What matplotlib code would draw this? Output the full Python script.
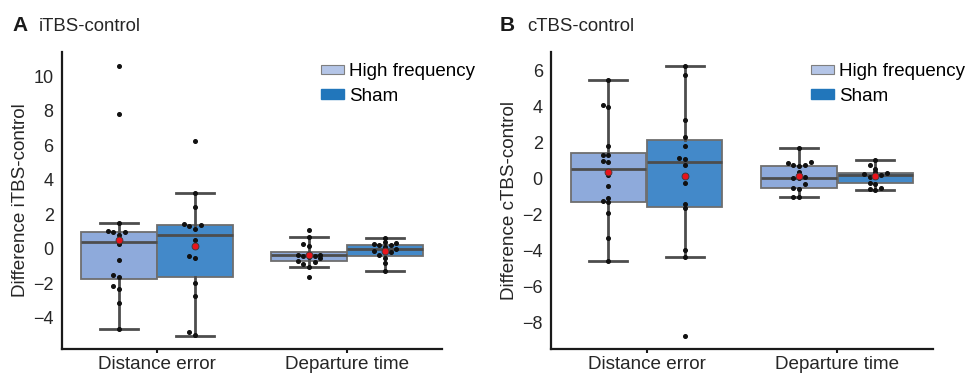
import matplotlib
matplotlib.use("Agg")
import matplotlib.pyplot as plt
from matplotlib.patches import Patch
import numpy as np

plt.rcParams['font.family'] = ['Liberation Sans', 'DejaVu Sans']

categories = ['Distance error', 'Departure time']
groups = ['High frequency', 'Sham']

# individual participant differences, panel A (iTBS - control)
a_hf_dist = [10.6, 7.8, 1.5, 1.05, 1.0, 0.95, 0.8, 0.55, 0.3, -0.65, -1.5, -1.6, -2.15, -2.35, -3.15, -4.65]
a_sham_dist = [6.25, 3.25, 2.4, 1.42, 1.38, 1.35, 1.15, 0.5, -0.4, -0.5, -1.95, -2.75, -4.8, -5.0]
a_hf_dep = [1.12, 0.7, 0.3, 0.15, -0.3, -0.35, -0.38, -0.4, -0.42, -0.45, -0.5, -0.7, -0.78, -0.85, -1.05, -1.62]
a_sham_dep = [0.64, 0.42, 0.35, 0.3, 0.25, 0.2, 0.1, 0.0, -0.1, -0.2, -0.35, -0.5, -0.8, -1.27]

# panel B (cTBS - control)
b_hf_dist = [5.48, 4.12, 3.97, 1.82, 1.34, 1.32, 0.96, 0.92, 0.2, -0.41, -1.06, -1.27, -1.3, -1.93, -3.31, -4.61]
b_sham_dist = [6.28, 5.76, 3.27, 2.3, 1.82, 1.12, 1.1, 0.76, -0.24, -1.42, -1.65, -4.0, -4.35, -8.75]
b_hf_dep = [1.73, 0.9, 0.88, 0.75, 0.74, 0.72, 0.37, 0.1, 0.05, 0.02, -0.32, -0.5, -0.56, -1.0, -1.03]
b_sham_dep = [1.04, 0.74, 0.56, 0.35, 0.32, 0.25, 0.2, 0.1, 0.08, -0.25, -0.3, -0.55, -0.6, -0.65]

# box stats: (whislo, q1, median, q3, whishi, mean)
a_hf_stats = [(-4.63, -1.72, 0.41, 0.98, 1.5, 0.5), (-1.04, -0.73, -0.38, -0.17, 0.7, -0.33)]
a_sham_stats = [(-5.04, -1.6, 0.81, 1.41, 3.24, 0.16), (-1.27, -0.4, -0.02, 0.25, 0.64, -0.12)]
b_hf_stats = [(-4.61, -1.28, 0.52, 1.43, 5.48, 0.39), (-1.02, -0.52, 0.04, 0.7, 1.73, 0.17)]
b_sham_stats = [(-4.37, -1.6, 0.93, 2.17, 6.28, 0.15), (-0.65, -0.22, 0.22, 0.33, 1.04, 0.17)]

box_colors = ['#8eaadb', '#4389c9']
legend_colors = ['#b4c5e7', '#2176bb']
line_color = '#4d4d4d'
text_color = '#262626'


def spread(values, tol):
    """small sideways offsets so near-equal points do not sit on top of each other"""
    vals = np.asarray(values, dtype=float)
    order = np.argsort(vals)
    offs = np.zeros(len(vals))
    steps = [0.0, -0.03, 0.03, -0.06, 0.06]
    k = 0
    prev = None
    for idx in order:
        if prev is not None and abs(vals[idx] - prev) < tol:
            k += 1
        else:
            k = 0
        offs[idx] = steps[k % len(steps)]
        prev = vals[idx]
    return offs


def draw_panel(ax, points, stats, ylabel, ylim, yticks):
    offset = 0.2
    width = 0.395
    tol = (ylim[1] - ylim[0]) * 0.012
    for g in range(2):
        for c in range(2):
            wl, q1, med, q3, wh, mean = stats[g][c]
            pos = c + (-offset if g == 0 else offset)
            ax.bxp([dict(whislo=wl, q1=q1, med=med, q3=q3, whishi=wh, fliers=[])],
                   positions=[pos], widths=width, capwidths=[0.2],
                   showfliers=False, patch_artist=True,
                   boxprops=dict(facecolor=box_colors[g], edgecolor='#6e6e6e', linewidth=1.3),
                   medianprops=dict(color=line_color, linewidth=2),
                   whiskerprops=dict(color=line_color, linewidth=2),
                   capprops=dict(color=line_color, linewidth=2),
                   manage_ticks=False, zorder=2)
            vals = points[g][c]
            xs = pos + spread(vals, tol)
            ax.plot(xs, vals, 'o', color='#111111', markersize=2.6, zorder=3)
            ax.plot([pos], [mean], 'o', color='#e8141b', markeredgecolor='#3a3a3a',
                    markeredgewidth=0.6, markersize=5, zorder=4)

    ax.set_xlim(-0.5, 1.5)
    ax.set_ylim(*ylim)
    ax.set_xticks([0, 1])
    ax.set_xticklabels(categories, fontsize=13.6, color=text_color)
    ax.set_yticks(yticks)
    ax.set_yticklabels([f'{t:d}'.replace('-', '\u2212') for t in yticks], fontsize=13, color=text_color)
    ax.tick_params(axis='y', length=0, pad=6)
    ax.tick_params(axis='x', length=3, width=1.5, pad=2, color='#1a1a1a')
    ax.set_ylabel(ylabel, fontsize=13.6, color=text_color, labelpad=3)
    for side in ['top', 'right']:
        ax.spines[side].set_visible(False)
    for side in ['left', 'bottom']:
        ax.spines[side].set_linewidth(1.6)
        ax.spines[side].set_color('#1a1a1a')

    handles = [Patch(facecolor=legend_colors[0], edgecolor='#7f7f7f', linewidth=0.8),
               Patch(facecolor=legend_colors[1], edgecolor=legend_colors[1])]
    ax.legend(handles, groups, loc='upper left', bbox_to_anchor=(0.682, 0.962),
              frameon=False, fontsize=13.5, borderpad=0, borderaxespad=0,
              handlelength=1.2, handleheight=0.4, handletextpad=0.3,
              labelspacing=0.38)


fig = plt.figure(figsize=(9.67, 3.73), dpi=100)
ax_a = fig.add_axes([0.0641, 0.0643, 0.393, 0.796])
ax_b = fig.add_axes([0.570, 0.0643, 0.3944, 0.796])

draw_panel(ax_a,
           [[a_hf_dist, a_hf_dep], [a_sham_dist, a_sham_dep]],
           [a_hf_stats, a_sham_stats],
           'Difference iTBS-control', (-5.8, 11.4), list(range(-4, 11, 2)))
draw_panel(ax_b,
           [[b_hf_dist, b_hf_dep], [b_sham_dist, b_sham_dep]],
           [b_hf_stats, b_sham_stats],
           'Difference cTBS-control', (-9.5, 7.05), list(range(-8, 7, 2)))

# panel letters and titles
fig.text(12 / 967, 1 - 31 / 373, 'A', fontsize=15, fontweight='bold', color='#1a1a1a', va='baseline')
fig.text(39 / 967, 1 - 31 / 373, 'iTBS-control', fontsize=13.4, color=text_color, va='baseline')
fig.text(500 / 967, 1 - 31 / 373, 'B', fontsize=15, fontweight='bold', color='#1a1a1a', va='baseline')
fig.text(527 / 967, 1 - 31 / 373, 'cTBS-control', fontsize=13.4, color=text_color, va='baseline')

fig.savefig('out.png', dpi=100, facecolor='white')
plt.close(fig)
